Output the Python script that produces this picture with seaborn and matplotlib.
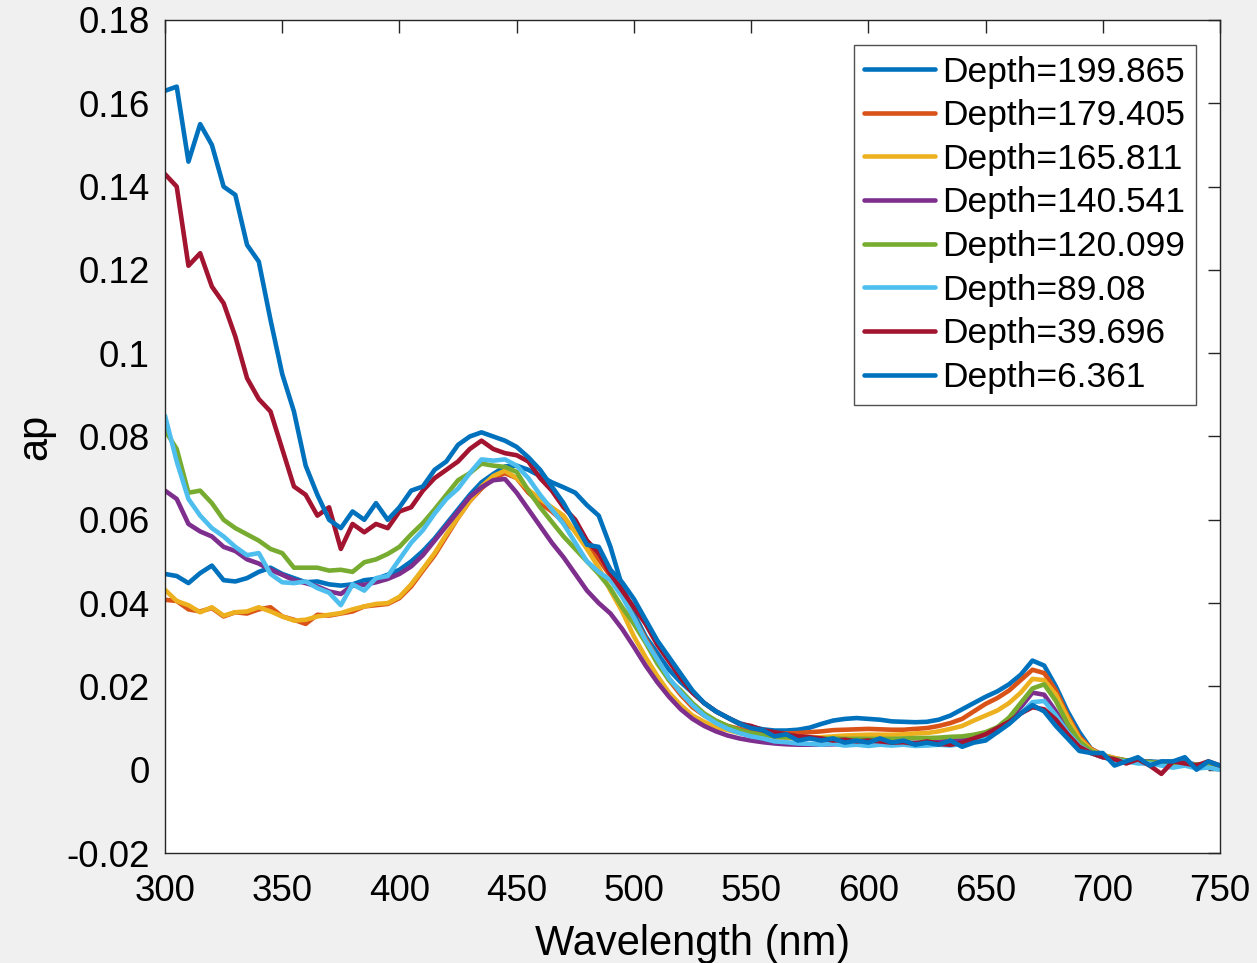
import numpy as np
import pandas as pd
import matplotlib
matplotlib.use("Agg")
import matplotlib.pyplot as plt
import seaborn as sns

# ---------------- data ----------------
wavelength = list(range(300, 755, 5))

depth_labels = ["Depth=199.865", "Depth=179.405", "Depth=165.811", "Depth=140.541",
                "Depth=120.099", "Depth=89.08", "Depth=39.696", "Depth=6.361"]

ap_199_865 = [
    0.0470, 0.0465, 0.0448, 0.0472, 0.0490, 0.0455, 0.0452, 0.0460, 0.0475, 0.0485,
    0.0470, 0.0460, 0.0450, 0.0452, 0.0445, 0.0442, 0.0445, 0.0455, 0.0458, 0.0468,
    0.0480, 0.0500, 0.0525, 0.0555, 0.0590, 0.0625, 0.0660, 0.0690, 0.0710, 0.0728,
    0.0730, 0.0720, 0.0705, 0.0690, 0.0678, 0.0665, 0.0635, 0.0610, 0.0535, 0.0440,
    0.0375, 0.0320, 0.0280, 0.0240, 0.0210, 0.0185, 0.0160, 0.0140, 0.0125, 0.0112,
    0.0103, 0.0097, 0.0094, 0.0094, 0.0096, 0.0101, 0.0110, 0.0118, 0.0122, 0.0124,
    0.0122, 0.0120, 0.0116, 0.0115, 0.0114, 0.0115, 0.0120, 0.0130, 0.0145, 0.0160,
    0.0175, 0.0188, 0.0205, 0.0228, 0.0262, 0.0250, 0.0200, 0.0140, 0.0090, 0.0050,
    0.0035, 0.0025, 0.0022, 0.0020, 0.0020, 0.0018, 0.0015, 0.0018, 0.0012, 0.0010,
    0.0010]

ap_179_405 = [
    0.0408, 0.0405, 0.0385, 0.0380, 0.0388, 0.0368, 0.0378, 0.0375, 0.0385, 0.0390,
    0.0368, 0.0360, 0.0350, 0.0372, 0.0370, 0.0375, 0.0380, 0.0392, 0.0395, 0.0398,
    0.0412, 0.0440, 0.0478, 0.0515, 0.0560, 0.0605, 0.0645, 0.0675, 0.0700, 0.0712,
    0.0700, 0.0665, 0.0640, 0.0620, 0.0595, 0.0575, 0.0540, 0.0505, 0.0465, 0.0420,
    0.0365, 0.0315, 0.0265, 0.0215, 0.0180, 0.0150, 0.0130, 0.0115, 0.0105, 0.0098,
    0.0092, 0.0088, 0.0088, 0.0087, 0.0088, 0.0090, 0.0092, 0.0095, 0.0096, 0.0097,
    0.0098, 0.0097, 0.0096, 0.0096, 0.0098, 0.0100, 0.0105, 0.0112, 0.0122, 0.0140,
    0.0158, 0.0172, 0.0190, 0.0215, 0.0240, 0.0232, 0.0190, 0.0130, 0.0080, 0.0050,
    0.0035, 0.0028, 0.0022, 0.0020, 0.0018, 0.0018, 0.0015, 0.0015, 0.0012, 0.0010,
    0.0010]

ap_165_811 = [
    0.0432, 0.0405, 0.0395, 0.0378, 0.0390, 0.0370, 0.0378, 0.0380, 0.0390, 0.0380,
    0.0368, 0.0358, 0.0360, 0.0368, 0.0372, 0.0376, 0.0385, 0.0392, 0.0398, 0.0400,
    0.0415, 0.0445, 0.0482, 0.0520, 0.0565, 0.0605, 0.0645, 0.0680, 0.0705, 0.0718,
    0.0700, 0.0672, 0.0650, 0.0630, 0.0610, 0.0570, 0.0530, 0.0485, 0.0430, 0.0380,
    0.0320, 0.0270, 0.0225, 0.0185, 0.0155, 0.0130, 0.0115, 0.0102, 0.0095, 0.0088,
    0.0082, 0.0078, 0.0077, 0.0076, 0.0076, 0.0077, 0.0078, 0.0080, 0.0082, 0.0083,
    0.0084, 0.0084, 0.0084, 0.0085, 0.0087, 0.0088, 0.0092, 0.0098, 0.0105, 0.0118,
    0.0130, 0.0142, 0.0160, 0.0185, 0.0218, 0.0215, 0.0180, 0.0125, 0.0075, 0.0048,
    0.0035, 0.0028, 0.0022, 0.0020, 0.0018, 0.0016, 0.0015, 0.0014, 0.0012, 0.0010,
    0.0010]

ap_140_541 = [
    0.0670, 0.0650, 0.0590, 0.0572, 0.0560, 0.0535, 0.0525, 0.0505, 0.0495, 0.0480,
    0.0468, 0.0455, 0.0448, 0.0440, 0.0428, 0.0422, 0.0442, 0.0444, 0.0450, 0.0458,
    0.0470, 0.0488, 0.0515, 0.0550, 0.0585, 0.0620, 0.0655, 0.0678, 0.0695, 0.0698,
    0.0665, 0.0625, 0.0585, 0.0545, 0.0510, 0.0470, 0.0430, 0.0400, 0.0375, 0.0338,
    0.0295, 0.0250, 0.0210, 0.0175, 0.0145, 0.0122, 0.0105, 0.0092, 0.0082, 0.0075,
    0.0070, 0.0066, 0.0063, 0.0061, 0.0060, 0.0060, 0.0060, 0.0061, 0.0062, 0.0062,
    0.0063, 0.0063, 0.0063, 0.0064, 0.0065, 0.0066, 0.0067, 0.0070, 0.0073, 0.0078,
    0.0085, 0.0098, 0.0120, 0.0150, 0.0185, 0.0180, 0.0140, 0.0095, 0.0060, 0.0040,
    0.0030, 0.0025, 0.0022, 0.0020, 0.0018, 0.0016, 0.0015, 0.0014, 0.0012, 0.0010,
    0.0010]

ap_120_099 = [
    0.0815, 0.0770, 0.0665, 0.0670, 0.0640, 0.0600, 0.0580, 0.0565, 0.0550, 0.0530,
    0.0520, 0.0485, 0.0485, 0.0485, 0.0478, 0.0480, 0.0475, 0.0498, 0.0505, 0.0518,
    0.0535, 0.0565, 0.0592, 0.0625, 0.0660, 0.0695, 0.0712, 0.0735, 0.0730, 0.0727,
    0.0715, 0.0670, 0.0630, 0.0595, 0.0560, 0.0530, 0.0500, 0.0470, 0.0435, 0.0390,
    0.0350, 0.0305, 0.0255, 0.0215, 0.0190, 0.0160, 0.0135, 0.0118, 0.0105, 0.0095,
    0.0088, 0.0083, 0.0080, 0.0078, 0.0077, 0.0076, 0.0075, 0.0075, 0.0074, 0.0074,
    0.0074, 0.0074, 0.0074, 0.0075, 0.0076, 0.0076, 0.0077, 0.0079, 0.0080, 0.0084,
    0.0090, 0.0102, 0.0125, 0.0160, 0.0195, 0.0205, 0.0165, 0.0110, 0.0068, 0.0045,
    0.0033, 0.0026, 0.0022, 0.0020, 0.0018, 0.0016, 0.0015, 0.0014, 0.0012, 0.0010,
    0.0010]

ap_89_08 = [
    0.0850, 0.0740, 0.0650, 0.0610, 0.0580, 0.0560, 0.0535, 0.0515, 0.0520, 0.0470,
    0.0450, 0.0448, 0.0452, 0.0436, 0.0425, 0.0395, 0.0445, 0.0430, 0.0460, 0.0465,
    0.0505, 0.0545, 0.0575, 0.0615, 0.0650, 0.0675, 0.0712, 0.0745, 0.0742, 0.0745,
    0.0730, 0.0700, 0.0660, 0.0625, 0.0590, 0.0545, 0.0500, 0.0475, 0.0455, 0.0415,
    0.0365, 0.0310, 0.0265, 0.0220, 0.0185, 0.0155, 0.0130, 0.0112, 0.0098, 0.0088,
    0.0080, 0.0075, 0.0068, 0.0066, 0.0063, 0.0062, 0.0060, 0.0062, 0.0058, 0.0060,
    0.0057, 0.0060, 0.0058, 0.0060, 0.0057, 0.0058, 0.0060, 0.0058, 0.0062, 0.0068,
    0.0078, 0.0090, 0.0110, 0.0135, 0.0162, 0.0165, 0.0130, 0.0090, 0.0058, 0.0040,
    0.0030, 0.0022, 0.0020, 0.0015, 0.0015, 0.0010, 0.0005, 0.0010, 0.0003, 0.0005,
    0.0000]

ap_39_696 = [
    0.1430, 0.1400, 0.1210, 0.1240, 0.1160, 0.1120, 0.1040, 0.0940, 0.0890, 0.0860,
    0.0770, 0.0680, 0.0660, 0.0610, 0.0630, 0.0530, 0.0590, 0.0570, 0.0590, 0.0580,
    0.0620, 0.0630, 0.0670, 0.0700, 0.0720, 0.0740, 0.0770, 0.0790, 0.0770, 0.0760,
    0.0755, 0.0740, 0.0700, 0.0670, 0.0630, 0.0600, 0.0550, 0.0520, 0.0470, 0.0430,
    0.0390, 0.0350, 0.0300, 0.0260, 0.0220, 0.0185, 0.0160, 0.0140, 0.0125, 0.0110,
    0.0105, 0.0095, 0.0090, 0.0085, 0.0080, 0.0078, 0.0075, 0.0070, 0.0072, 0.0068,
    0.0070, 0.0068, 0.0065, 0.0066, 0.0062, 0.0068, 0.0062, 0.0060, 0.0065, 0.0075,
    0.0085, 0.0100, 0.0115, 0.0135, 0.0150, 0.0145, 0.0120, 0.0085, 0.0055, 0.0040,
    0.0030, 0.0025, 0.0015, 0.0025, 0.0010, -0.0010, 0.0020, 0.0015, 0.0010, 0.0020,
    0.0010]

ap_6_361 = [
    0.163, 0.164, 0.146, 0.155, 0.150, 0.140, 0.138, 0.126, 0.122, 0.108,
    0.095, 0.086, 0.073, 0.066, 0.060, 0.058, 0.062, 0.060, 0.064, 0.060,
    0.063, 0.067, 0.068, 0.072, 0.074, 0.078, 0.080, 0.081, 0.080, 0.079,
    0.0775, 0.075, 0.072, 0.068, 0.064, 0.059, 0.054, 0.0535, 0.048, 0.045,
    0.041, 0.036, 0.031, 0.027, 0.023, 0.019, 0.016, 0.014, 0.0125, 0.011,
    0.010, 0.0095, 0.008, 0.0085, 0.007, 0.0075, 0.007, 0.0075, 0.0065, 0.007,
    0.0065, 0.0075, 0.0065, 0.007, 0.006, 0.0065, 0.006, 0.007, 0.0055, 0.0065,
    0.007, 0.009, 0.011, 0.0135, 0.0155, 0.014, 0.0105, 0.0075, 0.0045, 0.004,
    0.004, 0.001, 0.002, 0.003, 0.001, 0.002, 0.002, 0.003, 0.000, 0.002,
    0.001]

series_values = [ap_199_865, ap_179_405, ap_165_811, ap_140_541,
                 ap_120_099, ap_89_08, ap_39_696, ap_6_361]

line_colors = ["#0072BD", "#D95319", "#EDB120", "#7E2F8E",
               "#77AC30", "#4DBEEE", "#A2142F", "#0072BD"]

x_ticks = [300, 350, 400, 450, 500, 550, 600, 650, 700, 750]
y_ticks = [-0.02, 0, 0.02, 0.04, 0.06, 0.08, 0.1, 0.12, 0.14, 0.16, 0.18]
y_tick_labels = ["-0.02", "0", "0.02", "0.04", "0.06", "0.08", "0.1",
                 "0.12", "0.14", "0.16", "0.18"]

# ---------------- long-form table ----------------
frames = []
for lab, vals in zip(depth_labels, series_values):
    frames.append(pd.DataFrame({"Wavelength": wavelength, "ap": vals, "Depth": lab}))
df = pd.concat(frames, ignore_index=True)

# ---------------- style ----------------
sns.set_style("white")
plt.rcParams["font.family"] = ["Liberation Sans", "DejaVu Sans"]
plt.rcParams["text.color"] = "black"
plt.rcParams["axes.labelcolor"] = "black"

fig = plt.figure(figsize=(12.57, 9.63), dpi=100, facecolor="#F0F0F0")
ax = fig.add_axes([165 / 1257, 1 - 853 / 963, 1055 / 1257, 833 / 963])
ax.set_facecolor("white")

sns.lineplot(data=df, x="Wavelength", y="ap", hue="Depth", hue_order=depth_labels,
             palette=line_colors, linewidth=3.3, estimator=None, sort=False, ax=ax)

ax.set_xlim(300, 750)
ax.set_ylim(-0.02, 0.18)
ax.set_xticks(x_ticks)
ax.set_xticklabels([str(t) for t in x_ticks])
ax.set_yticks(y_ticks)
ax.set_yticklabels(y_tick_labels)

for s in ax.spines.values():
    s.set_visible(True)
    s.set_color("#262626")
    s.set_linewidth(1.0)

ax.tick_params(axis="both", which="major", direction="in", length=9, width=1.0,
               color="#262626", labelsize=26.5, labelcolor="black",
               top=True, right=True)
ax.tick_params(axis="y", pad=11)
ax.tick_params(axis="x", pad=15)

ax.set_xlabel("Wavelength (nm)", fontsize=30, labelpad=11, color="black")
ax.set_ylabel("ap", fontsize=30, labelpad=8, color="black")

handles, labels = ax.get_legend_handles_labels()
leg = ax.legend(handles, labels, loc="upper right",
                bbox_to_anchor=((1196 - 165) / 1055, (853 - 45) / 833),
                borderaxespad=0, fontsize=25.5, frameon=True, fancybox=False,
                handlelength=2.0, handletextpad=0.2, labelspacing=0.3,
                borderpad=0.3)
leg.get_frame().set_edgecolor("#262626")
leg.get_frame().set_linewidth(1.0)
for h in leg.get_lines():
    h.set_linewidth(3.3)

fig.savefig("out.png", dpi=100, facecolor=fig.get_facecolor())
